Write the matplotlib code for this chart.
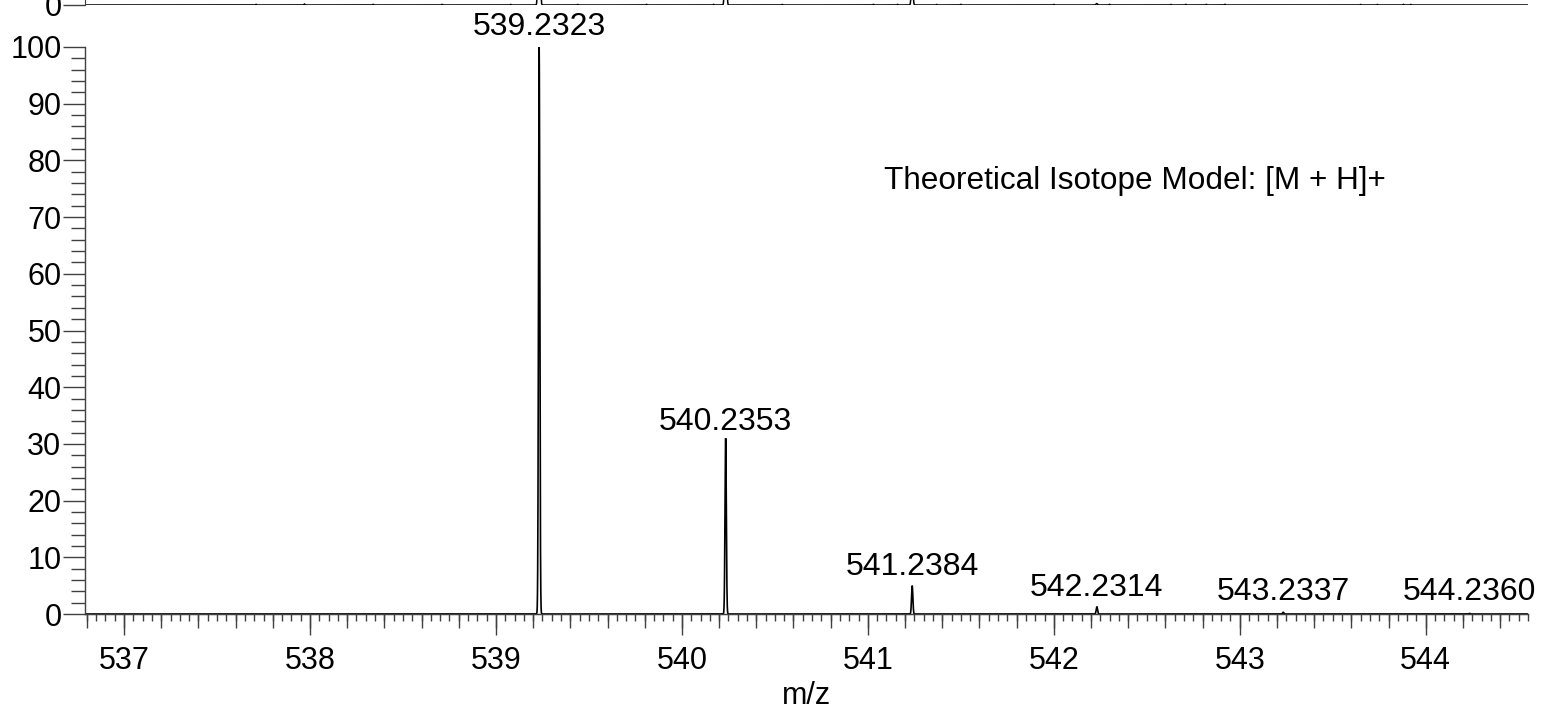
import numpy as np
import matplotlib
matplotlib.use("Agg")
import matplotlib.pyplot as plt
from matplotlib.ticker import MultipleLocator

plt.rcParams['font.family'] = ['Liberation Sans', 'DejaVu Sans']

# ---- data ----
peak_mz = [539.2323, 540.2353, 541.2384, 542.2314, 543.2337, 544.2360]
peak_int = [100.0, 31.0, 5.0, 1.3, 0.3, 0.1]
peak_labels = ["539.2323", "540.2353", "541.2384", "542.2314", "543.2337", "544.2360"]
label_y = [103.5, 33.9, 8.3, 4.6, 3.9, 3.9]

# upper (cropped) experimental panel
top_mz = [539.232, 540.235, 541.238, 542.231]
top_int = [100.0, 30.0, 6.0, 0.25]
noise_mz = [537.71, 537.97, 538.34, 538.71, 539.08, 539.44, 539.81, 540.17,
            540.54, 541.03, 541.16, 541.37, 541.50, 542.00, 542.30, 542.63,
            542.71, 542.82, 542.92, 543.65, 543.74, 543.88, 543.92]
noise_int = [0.12, 0.18, 0.12, 0.12, 0.1, 0.1, 0.12, 0.12,
             0.1, 0.12, 0.12, 0.1, 0.12, 0.1, 0.12, 0.1,
             0.12, 0.12, 0.12, 0.1, 0.1, 0.12, 0.1]

title_text = "Theoretical Isotope Model: [M + H]+"
xlim = (536.79, 544.55)

def profile(x, centers, heights, sigma):
    y = np.zeros_like(x)
    for c, h in zip(centers, heights):
        y += h * np.exp(-0.5 * ((x - c) / sigma) ** 2)
    return y

W, H = 1541, 711
fig = plt.figure(figsize=(W / 100, H / 100), dpi=100)

ax_l, ax_r = 85 / W, 1528 / W
ax_b = (H - 614) / H
ax_h = 567 / H
ax = fig.add_axes([ax_l, ax_b, ax_r - ax_l, ax_h])

x = np.arange(xlim[0], xlim[1], 0.0004)
y = profile(x, peak_mz, peak_int, 0.0035)
ax.plot(x, y, color='black', lw=1.2, solid_joinstyle='miter')

for mz, ly, lab in zip(peak_mz, label_y, peak_labels):
    ax.text(mz, ly, lab, ha='center', va='center', fontsize=23)

ax.text(541.085, 75, title_text, ha='left', va='baseline', fontsize=22.7)

ax.set_xlim(*xlim)
ax.set_ylim(0, 100)
for s in ['top', 'right']:
    ax.spines[s].set_visible(False)
for s in ['left', 'bottom']:
    ax.spines[s].set_color('#404040')
    ax.spines[s].set_linewidth(1.0)

ax.xaxis.set_major_locator(MultipleLocator(1))
ax.xaxis.set_minor_locator(MultipleLocator(0.05))
ax.yaxis.set_major_locator(MultipleLocator(10))
ax.yaxis.set_minor_locator(MultipleLocator(2))
ax.tick_params(axis='x', which='major', length=15, width=1, color='#404040',
               labelsize=22, pad=8)
ax.tick_params(axis='x', which='minor', length=5, width=1, color='#404040')
ax.tick_params(axis='y', which='major', length=16, width=1, color='#404040',
               labelsize=22, pad=1)
ax.tick_params(axis='y', which='minor', length=10, width=1, color='#404040')

sec = ax.secondary_xaxis('bottom')
sec.set_xticks(np.arange(536.8, 544.7, 0.2))
sec.tick_params(length=10, width=1, color='#404040', labelbottom=False)
sec.spines['bottom'].set_color('#404040')

ax.set_xlabel("m/z", fontsize=22, labelpad=4)

# upper cropped panel
top_b = (H - 5) / H
ax2 = fig.add_axes([ax_l, top_b, ax_r - ax_l, 0.8])
y2 = profile(x, top_mz, top_int, 0.004) + profile(x, noise_mz, noise_int, 0.002)
ax2.plot(x, y2, color='black', lw=1.1)
ax2.set_xlim(*xlim)
ax2.set_ylim(0, 100)
for s in ['top', 'right', 'bottom']:
    ax2.spines[s].set_visible(False)
ax2.spines['left'].set_color('#404040')
ax2.set_xticks([])
ax2.set_yticks([0])
ax2.tick_params(axis='y', length=16, width=1, color='#404040', labelsize=22, pad=1)

fig.savefig("out.png", dpi=100)
